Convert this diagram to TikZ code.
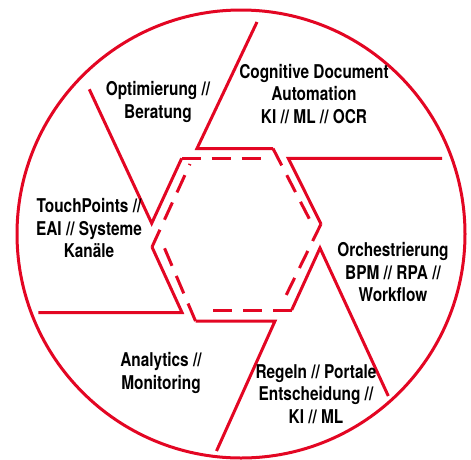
\documentclass[tikz,border=0pt]{standalone}
\usepackage{fontspec}
\setmainfont{TeX Gyre Heros}[FakeStretch=0.81]
\definecolor{aperture}{RGB}{227,6,35}

\begin{document}
\begin{tikzpicture}[x=1pt, y=-1pt,
        blade/.style={draw=aperture, line width=3pt, line join=miter},
        innerline/.style={blade, dash pattern=on 19pt off 11pt},
        field/.style={align=center, inner sep=0pt,
            font=\fontsize{19}{22.3}\selectfont\bfseries}]
        \useasboundingbox (0, 0) rectangle (471, 459);

        \coordinate (M) at (241, 234);
        \draw[blade] (M) circle (224pt);

        \coordinate (C1) at (257, 22);
        \coordinate (V1) at (197, 148.5);
        \coordinate (W1) at (273, 148.5);
        \coordinate (D1) at (313, 226);

        \coordinate (C2) at (442, 158.3);
        \coordinate (V2) at (288.3, 158.3);
        \coordinate (W2) at (321, 224);
        \coordinate (D2) at (285, 297.5);

        \coordinate (C3) at (388.3, 396);
        \coordinate (V3) at (320, 248);
        \coordinate (W3) at (291.7, 310);
        \coordinate (D3) at (210, 310);

        \coordinate (C4) at (216.5, 451);
        \coordinate (V4) at (275, 321);
        \coordinate (W4) at (195.5, 321);
        \coordinate (D4) at (164, 247);

        \coordinate (C5) at (38.3, 312.5);
        \coordinate (V5) at (182, 312.5);
        \coordinate (W5) at (152, 247);
        \coordinate (D5) at (190, 164);

        \coordinate (C6) at (89.3, 89.3);
        \coordinate (V6) at (151.7, 223.3);
        \coordinate (W6) at (181.7, 158.3);
        \coordinate (D6) at (268, 158.3);

        \draw[blade] (C1) -- (V1) -- (W1);
        \draw[blade] (C2) -- (V2) -- (W2);
        \draw[blade] (C3) -- (V3) -- (W3);
        \draw[blade] (C4) -- (V4) -- (W4);
        \draw[blade] (C5) -- (V5) -- (W5);
        \draw[blade] (C6) -- (V6) -- (W6);

        \draw[innerline] (W1) -- (D1);
        \draw[innerline] (W2) -- (D2);
        \draw[innerline] (W3) -- (D3);
        \draw[innerline] (W4) -- (D4);
        \draw[innerline] (W5) -- (D5);
        \draw[innerline] (W6) -- (D6);

        \node[field] (cda) at (314, 94) {Cognitive Document\\Automation\\KI // ML // OCR};
        \node[field] (opt) at (158, 102) {Optimierung //\\Beratung};
        \node[field] (touch) at (89, 228) {TouchPoints //\\EAI // Systeme\\Kanäle};
        \node[field] (orch) at (393, 272) {Orchestrierung\\BPM // RPA //\\Workflow};
        \node[field] (ana) at (161, 373) {Analytics //\\Monitoring};
        \node[field] (rules) at (316, 394) {Regeln // Portale\\Entscheidung //\\KI // ML};
    \end{tikzpicture}
\end{document}
